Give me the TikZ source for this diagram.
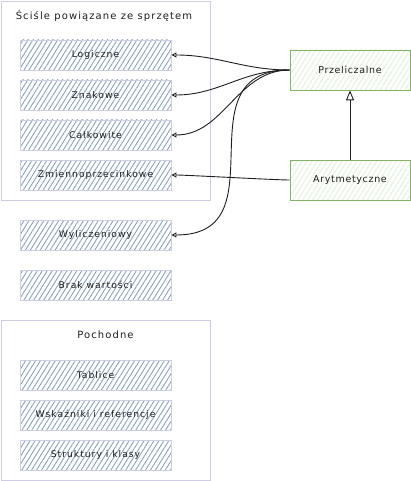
\documentclass[tikz,border=0pt]{standalone}
\usepackage{fontspec}
\setmainfont{DejaVu Sans}
\newfontfamily\sketchfont[LetterSpace=7]{DejaVu Sans}
\newfontfamily\widefont[LetterSpace=11]{DejaVu Sans}
\usetikzlibrary{arrows.meta,patterns.meta}
\definecolor{grp}{HTML}{CFCDE3}
\definecolor{hatch}{HTML}{8AA2BC}
\definecolor{gborder}{HTML}{82B366}
\definecolor{ghatch}{HTML}{BFE2AF}
\definecolor{ink}{HTML}{1E1E1E}
\begin{document}
\begin{tikzpicture}[x=1pt,y=-1pt,
  grpbox/.style={draw=grp, line width=0.9pt},
  grptitle/.style={text=ink, font=\widefont\fontsize{10}{12}\selectfont, inner sep=0pt},
  item/.style={draw=grp, line width=0.9pt,
    pattern={Lines[angle=58,distance=4.2pt,line width=0.9pt]}, pattern color=hatch,
    minimum width=151pt, minimum height=30pt, inner sep=0pt, text=ink,
    font=\widefont\fontsize{9.2}{11}\selectfont},
  gitem/.style={draw=gborder, line width=0.9pt,
    pattern={Lines[angle=58,distance=4pt,line width=0.6pt]}, pattern color=ghatch,
    minimum width=120pt, minimum height=40pt, inner sep=0pt, text=ink,
    font=\sketchfont\fontsize{9.5}{11}\selectfont},
  conn/.style={draw=ink, line width=0.9pt, -{Triangle[open,length=5pt,width=5pt]}},
  inh/.style={draw=ink, line width=0.9pt, -{Triangle[open,length=10pt,width=8pt]}}
]
\useasboundingbox (0,0) rectangle (411,481);
% groups
\draw[grpbox] (1,1) rectangle (210,200);
\node[grptitle] (t1) at (104,16) {Ściśle powiązane ze sprzętem};
\draw[grpbox] (1,320) rectangle (210,480);
\node[grptitle] (t2) at (105.5,335) {Pochodne};
% items
\node[item] (log) at (95.5,55) {Logiczne};
\node[item] (zna) at (95.5,95) {Znakowe};
\node[item] (cal) at (95.5,135) {Całkowite};
\node[item] (zmi) at (95.5,175) {Zmiennoprzecinkowe};
\node[item] (wyl) at (95.5,235) {Wyliczeniowy};
\node[item] (bra) at (95.5,285) {Brak wartości};
\node[item] (tab) at (95.5,375) {Tablice};
\node[item] (wsk) at (95.5,415) {Wskaźniki i referencje};
\node[item] (str) at (95.5,455) {Struktury i klasy};
% green
\node[gitem] (prz) at (350,70) {Przeliczalne};
\node[gitem] (ary) at (350,180) {Arytmetyczne};
% connectors
\draw[conn] (prz.west) to[out=180,in=0] (log.east);
\draw[conn] (prz.west) to[out=180,in=0] (zna.east);
\draw[conn] (prz.west) to[out=180,in=0] (cal.east);
\draw[conn] (prz.west) to[out=180,in=0,looseness=1.4] (wyl.east);
\draw[conn] (ary.west) to[out=180,in=0,looseness=0.3] (zmi.east);
\draw[inh] (ary.north) -- (prz.south);
\end{tikzpicture}
\end{document}
